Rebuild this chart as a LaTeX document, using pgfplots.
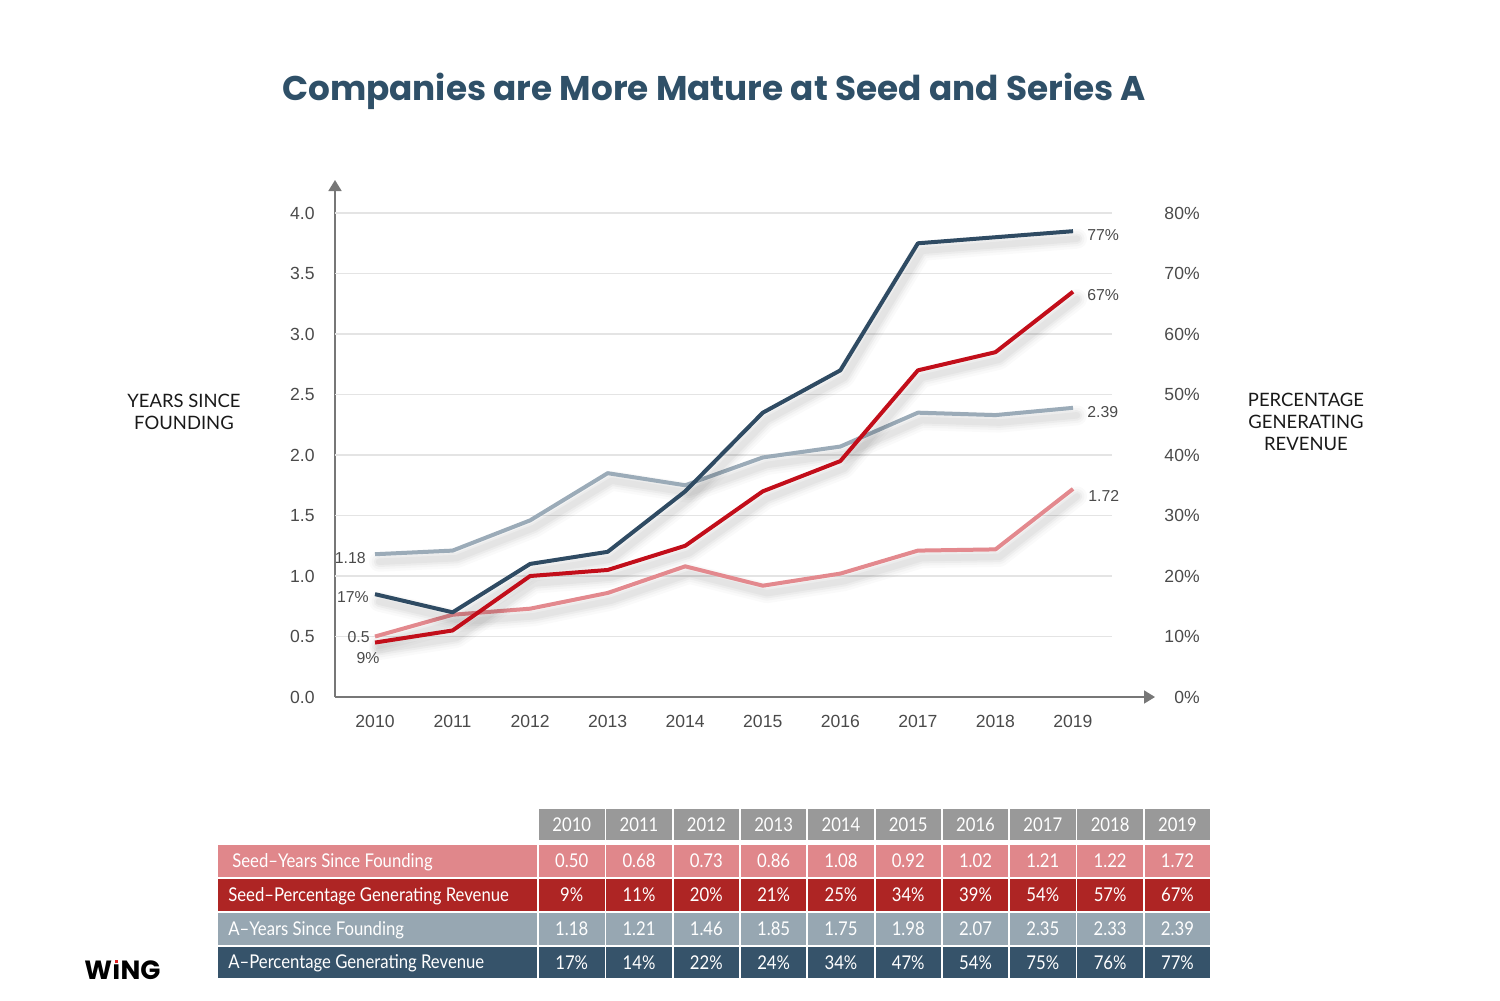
\documentclass[border=0pt]{standalone}
\usepackage{pgfplots}
\pgfplotsset{compat=1.18}
\usepackage{pgfplotstable}
\usepackage{fontspec}
\setmainfont{Liberation Sans}
\newfontfamily\titlefont{Poppins}
\newfontfamily\labfont{Lato}
\newfontfamily\tabfont[FakeStretch=0.88]{Lato}
\usetikzlibrary{arrows.meta}

\definecolor{titleblue}{HTML}{2F5068}
\definecolor{seedy}{HTML}{E3898E}
\definecolor{seedp}{HTML}{C20E1A}
\definecolor{ay}{HTML}{9BABB8}
\definecolor{ap}{HTML}{2F4B63}
\definecolor{axisgray}{HTML}{777777}
\definecolor{gridc}{HTML}{E4E4E4}
\definecolor{ticktext}{HTML}{4A4A4A}
\definecolor{hdr}{HTML}{999999}
\definecolor{r1}{HTML}{E0878B}
\definecolor{r2}{HTML}{AE2524}
\definecolor{r3}{HTML}{97A7B2}
\definecolor{r4}{HTML}{36536A}
\definecolor{wingred}{HTML}{E02020}

\pgfplotstableread{
year sy sp ay ap
2010 0.50 9 1.18 17
2011 0.68 11 1.21 14
2012 0.73 20 1.46 22
2013 0.86 21 1.85 24
2014 1.08 25 1.75 34
2015 0.92 34 1.98 47
2016 1.02 39 2.07 54
2017 1.21 54 2.35 75
2018 1.22 57 2.33 76
2019 1.72 67 2.39 77
}\data

\tikzset{
  shad/.style={draw=black, line join=round, line cap=round, transform canvas={xshift=0.8mm,yshift=-1.5mm}},
}
\newcommand\shadowplot[1]{%
  \addplot[shad, opacity=0.018, line width=4.0mm] table[x=year,y=#1]{\data};
  \addplot[shad, opacity=0.025, line width=3.0mm] table[x=year,y=#1]{\data};
  \addplot[shad, opacity=0.03, line width=2.1mm] table[x=year,y=#1]{\data};
  \addplot[shad, opacity=0.035, line width=1.3mm] table[x=year,y=#1]{\data};
}

\begin{document}
\begin{tikzpicture}
\useasboundingbox (0,0) rectangle (300mm,-200mm);

\begin{scope}[x=0.2mm,y=-0.2mm]
% title
\node[font=\titlefont\bfseries\fontsize{19.5}{23}\selectfont, text=titleblue] at (714,91) {Companies are More Mature at Seed and Series A};
% axis titles
\node[font=\labfont\fontsize{10.5}{12.5}\selectfont, align=center, text=black!90] at (184,412) {YEARS SINCE\\FOUNDING};
\node[font=\labfont\fontsize{10.5}{12.5}\selectfont, align=center, text=black!90] at (1306,422) {PERCENTAGE\\GENERATING\\REVENUE};

% table header
\foreach \yr [count=\i from 0] in {2010,...,2019} {
  \fill[hdr] (539+67.3*\i,809) rectangle (539+67.3*\i+65.5,840);
  \node[font=\tabfont\fontsize{10.8}{12}\selectfont, text=white] at (539+67.3*\i+32.75,824.5) {\yr};
}
% rows
\fill[r1] (218,845) rectangle (537,877);
\fill[r2] (218,879) rectangle (537,911);
\fill[r3] (218,913) rectangle (537,945);
\fill[r4] (218,947) rectangle (537,978);
\node[font=\tabfont\fontsize{10.8}{12}\selectfont, text=white, anchor=west, inner sep=0pt] at (232,862) {Seed–Years Since Founding};
\node[font=\tabfont\fontsize{10.8}{12}\selectfont, text=white, anchor=west, inner sep=0pt] at (228,896) {Seed–Percentage Generating Revenue};
\node[font=\tabfont\fontsize{10.8}{12}\selectfont, text=white, anchor=west, inner sep=0pt] at (228,930) {A–Years Since Founding};
\node[font=\tabfont\fontsize{10.8}{12}\selectfont, text=white, anchor=west, inner sep=0pt] at (228,963) {A–Percentage Generating Revenue};
\foreach \v [count=\i from 0] in {0.50,0.68,0.73,0.86,1.08,0.92,1.02,1.21,1.22,1.72} {
  \fill[r1] (539+67.3*\i,845) rectangle (539+67.3*\i+65.5,877);
  \node[font=\tabfont\fontsize{10.8}{12}\selectfont, text=white] at (539+67.3*\i+32.75,861) {\v};
}
\foreach \v [count=\i from 0] in {9,11,20,21,25,34,39,54,57,67} {
  \fill[r2] (539+67.3*\i,879) rectangle (539+67.3*\i+65.5,911);
  \node[font=\tabfont\fontsize{10.8}{12}\selectfont, text=white] at (539+67.3*\i+32.75,895) {\v\%};
}
\foreach \v [count=\i from 0] in {1.18,1.21,1.46,1.85,1.75,1.98,2.07,2.35,2.33,2.39} {
  \fill[r3] (539+67.3*\i,913) rectangle (539+67.3*\i+65.5,945);
  \node[font=\tabfont\fontsize{10.8}{12}\selectfont, text=white] at (539+67.3*\i+32.75,929) {\v};
}
\foreach \v [count=\i from 0] in {17,14,22,24,34,47,54,75,76,77} {
  \fill[r4] (539+67.3*\i,947) rectangle (539+67.3*\i+65.5,978);
  \node[font=\tabfont\fontsize{10.8}{12}\selectfont, text=white] at (539+67.3*\i+32.75,962.5) {\v\%};
}
% logo
\node[font=\titlefont\bfseries\fontsize{15}{17}\selectfont, anchor=west, inner sep=0pt] at (84,970)
  {W\ooalign{\i\cr\hfil{\color{wingred}\rule[0.6em]{0.13em}{0.13em}}\hfil\cr}NG};
\end{scope}

% left axis (years)
\begin{axis}[
  at={(67mm,-139.4mm)}, anchor=south west, scale only axis,
  width=164mm, height=103.4mm,
  xmin=2009.484, xmax=2020.057, ymin=0, ymax=4.273,
  axis x line=bottom, axis y line=left,
  axis line style={draw=axisgray, line width=0.35mm, -{Triangle[length=2.2mm,width=2.6mm]}},
  xtick={2010,...,2019}, ytick={0,0.5,...,4},
  /pgf/number format/assume math mode=true,
  xticklabel style={/pgf/number format/1000 sep={}, anchor=north, inner sep=0pt, yshift=-3.6mm},
  yticklabel style={/pgf/number format/.cd, fixed, fixed zerofill, precision=1, /tikz/.cd, anchor=east, inner sep=0pt, xshift=-4mm},
  major tick length=0pt,
  tick label style={font=\fontsize{10}{12}\selectfont, text=ticktext},
  clip=false,
]
\pgfplotsinvokeforeach{0.5,1,1.5,2,2.5,3,3.5,4}{
  \draw[gridc, line width=0.25mm] (axis cs:2009.484,#1) -- (axis cs:2019.5,#1);
}
\shadowplot{ay}
\addplot[ay, line width=0.8mm, line join=round] table[x=year,y=ay]{\data};
\shadowplot{sy}
\addplot[seedy, line width=0.8mm, line join=round] table[x=year,y=sy]{\data};
\node[anchor=east, inner sep=0pt, font=\fontsize{9}{10}\selectfont, text=ticktext, xshift=-1.8mm, yshift=-0.8mm] at (axis cs:2010,1.18) {1.18};
\node[anchor=east, inner sep=0pt, font=\fontsize{9}{10}\selectfont, text=ticktext, xshift=-1.0mm, yshift=-0.1mm] at (axis cs:2010,0.5) {0.5};
\node[anchor=west, inner sep=0pt, font=\fontsize{9}{10}\selectfont, text=ticktext, xshift=2.8mm, yshift=-0.8mm] at (axis cs:2019,2.39) {2.39};
\node[anchor=west, inner sep=0pt, font=\fontsize{9}{10}\selectfont, text=ticktext, xshift=3.0mm, yshift=-1.4mm] at (axis cs:2019,1.72) {1.72};
\end{axis}

% right axis (percent)
\begin{axis}[
  at={(67mm,-139.4mm)}, anchor=south west, scale only axis,
  width=164mm, height=103.4mm,
  xmin=2009.484, xmax=2020.057, ymin=0, ymax=85.46,
  axis x line=none, axis y line*=right,
  y axis line style={draw=none},
  xtick=\empty, ytick={0,10,...,80},
  /pgf/number format/assume math mode=true,
  yticklabel={\pgfmathprintnumber{\tick}\%},
  yticklabel style={anchor=east, inner sep=0pt, xshift=9mm},
  major tick length=0pt,
  tick label style={font=\fontsize{10}{12}\selectfont, text=ticktext},
  clip=false,
]
\shadowplot{ap}
\addplot[ap, line width=0.8mm, line join=round] table[x=year,y=ap]{\data};
\shadowplot{sp}
\addplot[seedp, line width=0.8mm, line join=round] table[x=year,y=sp]{\data};
\node[anchor=east, inner sep=0pt, font=\fontsize{9}{10}\selectfont, text=ticktext, xshift=-1.2mm, yshift=-0.6mm] at (axis cs:2010,17) {17\%};
\node[anchor=north, inner sep=0pt, font=\fontsize{9}{10}\selectfont, text=ticktext, xshift=-1.4mm, yshift=-2.0mm] at (axis cs:2010,9) {9\%};
\node[anchor=west, inner sep=0pt, font=\fontsize{9}{10}\selectfont, text=ticktext, xshift=2.8mm, yshift=-0.8mm] at (axis cs:2019,77) {77\%};
\node[anchor=west, inner sep=0pt, font=\fontsize{9}{10}\selectfont, text=ticktext, xshift=2.8mm, yshift=-0.6mm] at (axis cs:2019,67) {67\%};
\end{axis}
\end{tikzpicture}
\end{document}
